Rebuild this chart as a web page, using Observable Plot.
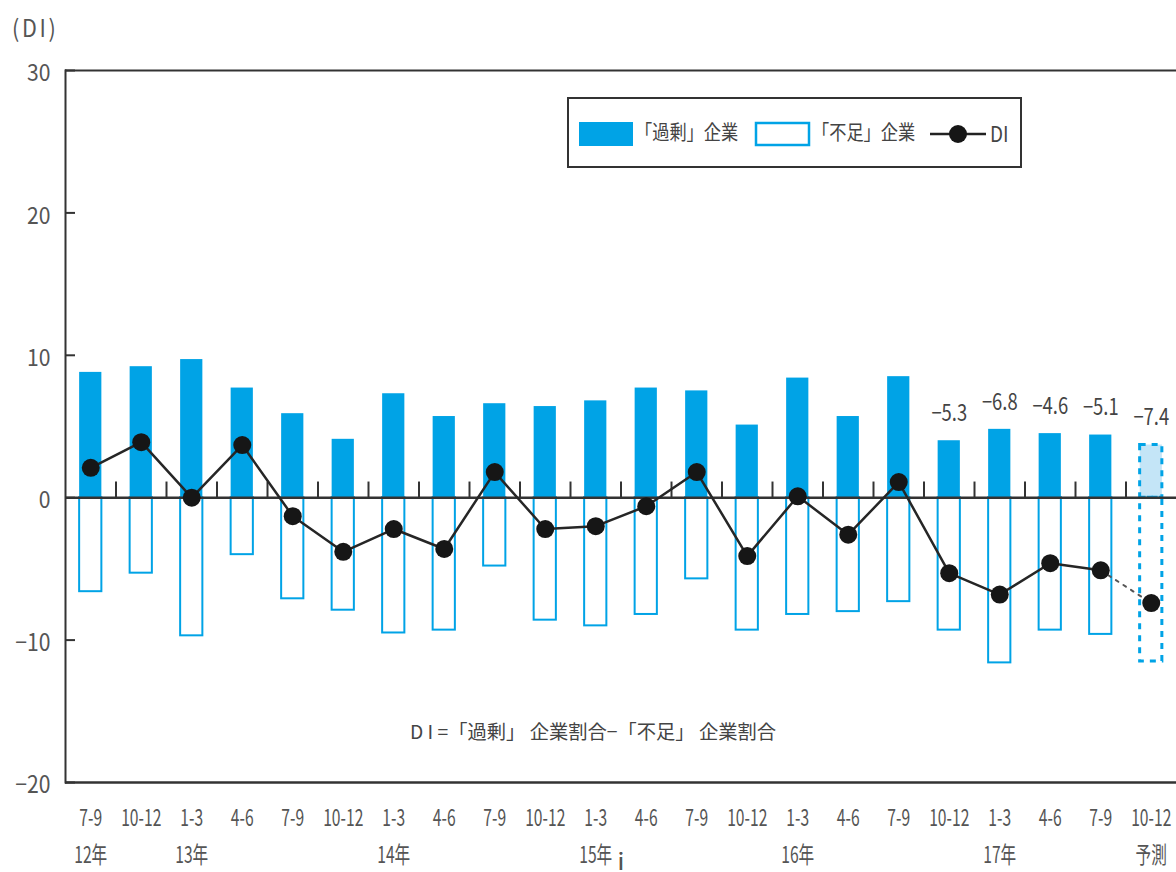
<!DOCTYPE html>
<html><head><meta charset="utf-8">
<script src="https://cdn.jsdelivr.net/npm/d3@7"></script>
<script src="https://cdn.jsdelivr.net/npm/@observablehq/plot@0.6"></script>
<style>
html,body,*{cursor:none !important;}
body{margin:0;background:#fff;}
#wrap{position:relative;width:1176px;height:872px;overflow:hidden;font-family:"Noto Sans CJK JP",sans-serif;color:#555;background:#fff;user-select:none;}
#unit{position:absolute;left:12px;top:9px;font-size:24px;letter-spacing:3px;color:#555;transform-origin:0 50%;transform:scaleX(0.9);}
#legend{position:absolute;left:567px;top:97px;width:451px;height:67px;border:2px solid #333;background:#fff;}
#legend .s{position:absolute;}
#legend .t{position:absolute;top:20px;font-size:20px;line-height:26px;color:#444;white-space:nowrap;transform-origin:0 50%;transform:scaleX(0.86);}
#note{position:absolute;left:410px;top:717px;font-size:19.3px;color:#444;white-space:nowrap;}
</style></head><body><div id="wrap"></div>
<script>
// ---- data ----
const periods = ["7-9","10-12","1-3","4-6","7-9","10-12","1-3","4-6","7-9","10-12","1-3","4-6","7-9","10-12","1-3","4-6","7-9","10-12","1-3","4-6","7-9","10-12"];
const years   = ["12\u5e74","","13\u5e74","","","","14\u5e74","","","","15\u5e74","","","","16\u5e74","","","","17\u5e74","","","\u4e88\u6e2c"];
const surplus  = [8.8, 9.2, 9.7, 7.7, 5.9, 4.1, 7.3, 5.7, 6.6, 6.4, 6.8, 7.7, 7.5, 5.1, 8.4, 5.7, 8.5, 4.0, 4.8, 4.5, 4.4, 3.7];
const shortage = [6.6, 5.3, 9.7, 4.0, 7.1, 7.9, 9.5, 9.3, 4.8, 8.6, 9.0, 8.2, 5.7, 9.3, 8.2, 8.0, 7.3, 9.3, 11.6, 9.3, 9.6, 11.5];
const di       = [2.1, 3.9, 0.0, 3.7, -1.3, -3.8, -2.2, -3.6, 1.8, -2.2, -2.0, -0.6, 1.8, -4.1, 0.1, -2.6, 1.1, -5.3, -6.8, -4.6, -5.1, -7.4];
const diLabels = ["","","","","","","","","","","","","","","","","","−5.3","−6.8","−4.6","−5.1","−7.4"];
const yTicks = [-20, -10, 0, 10, 20, 30];
const forecastIndex = 21;

const blue = "#00a3e6";
const W = 1176, H = 872, mL = 65, mR = 0, mT = 70, mB = 90;
const step = (W - mL - mR) / periods.length;
const font = '"Noto Sans CJK JP",sans-serif';

const rows = periods.map((p, i) => ({i, p, year: years[i], surplus: surplus[i], shortage: -shortage[i], di: di[i], forecast: i === forecastIndex, label: diLabels[i]}));
const actual = rows.filter(d => !d.forecast);
const fc = rows.filter(d => d.forecast);
const yearTicks = rows.filter(d => d.year).map(d => d.i);

const chart = Plot.plot({
  width: W, height: H,
  marginLeft: mL, marginRight: mR, marginTop: mT, marginBottom: mB,
  style: {fontFamily: font, color: "#555", background: "transparent"},
  x: {type: "band", domain: d3.range(periods.length), paddingInner: 0.56, paddingOuter: 0.28, round: false},
  y: {domain: [-20, 30]},
  marks: [
    Plot.barY(actual, {x: "i", y: "surplus", fill: blue}),
    Plot.barY(actual, {x: "i", y: "shortage", fill: "white", stroke: blue, strokeWidth: 2}),
    Plot.barY(fc, {x: "i", y: "surplus", fill: "#c4e5f7", stroke: blue, strokeWidth: 3, strokeDasharray: "6,6"}),
    Plot.barY(fc, {x: "i", y: "shortage", fill: "white", stroke: blue, strokeWidth: 3, strokeDasharray: "6,6"}),
    Plot.ruleY([0], {stroke: "#333", strokeWidth: 2.5}),
    Plot.ruleX(rows.slice(0, -1), {x: "i", y1: () => 0, y2: () => 1.1, dx: step / 2, stroke: "#333", strokeWidth: 2}),
    Plot.ruleY([30], {stroke: "#333", strokeWidth: 2}),
    Plot.ruleY([-20], {stroke: "#333", strokeWidth: 2.5}),
    Plot.frame({anchor: "left", stroke: "#333", strokeWidth: 2}),
    Plot.axisY(yTicks, {tickSize: -10, stroke: "#333", strokeWidth: 2, tickFormat: () => ""}),
    Plot.axisY(yTicks, {tickSize: 0, tickPadding: 15, fontSize: 24, dy: 3, tickFormat: d => d < 0 ? "−" + Math.abs(d) : String(d)}),
    Plot.axisX({tickSize: 0, tickPadding: 27, fontSize: 23, tickFormat: i => periods[i]}),
    Plot.axisX(yearTicks, {tickSize: 0, tickPadding: 64, fontSize: 23, tickFormat: i => years[i]}),
    Plot.line(actual, {x: "i", y: "di", stroke: "#262626", strokeWidth: 2.5}),
    Plot.line(rows.slice(-2), {x: "i", y: "di", stroke: "#555", strokeWidth: 2, strokeDasharray: "3,6"}),
    Plot.dot(rows, {x: "i", y: "di", r: 9, fill: "#161616"}),
    Plot.text(rows.filter(d => d.label), {x: "i", y: "surplus", text: "label", dy: -27, fontSize: 23, fill: "#444"})
  ]
});

// condense the tick and value labels horizontally, like the narrow typeface of the original
function condense(selector, s) {
  chart.querySelectorAll(selector).forEach(el => {
    const x = parseFloat(el.getAttribute("x")) || 0;
    const t = el.getAttribute("transform") || "";
    el.setAttribute("transform", `${t} translate(${x},0) scale(${s},1) translate(${-x},0)`);
  });
}
condense('g[aria-label="x-axis tick label"] text', 0.68);
condense('g[aria-label="y-axis tick label"] text', 0.88);
condense('g[aria-label="text"] text', 0.8);

const wrap = document.getElementById("wrap");
chart.style.position = "absolute";
chart.style.left = "0"; chart.style.top = "0";
wrap.appendChild(chart);

const unit = document.createElement("div");
unit.id = "unit"; unit.textContent = "(DI)";
wrap.appendChild(unit);

const legend = document.createElement("div");
legend.id = "legend";
legend.innerHTML = `
  <svg class="s" style="left:9px;top:22px" width="56" height="26"><rect x="1" y="1" width="54" height="24" fill="${blue}"/></svg>
  <span class="t" style="left:66px">「過剰」企業</span>
  <svg class="s" style="left:185px;top:22px" width="58" height="26"><rect x="2" y="2" width="53" height="22" fill="white" stroke="${blue}" stroke-width="2.5"/></svg>
  <span class="t" style="left:243px">「不足」企業</span>
  <svg class="s" style="left:361px;top:22px" width="58" height="26"><line x1="0" y1="13" x2="56" y2="13" stroke="#222" stroke-width="2.5"/><circle cx="28" cy="13" r="9" fill="#161616"/></svg>
  <span class="t" style="left:421px;font-size:22px">DI</span>`;
wrap.appendChild(legend);

const note = document.createElement("div");
note.id = "note";
note.textContent = "D I =「過剰」 企業割合−「不足」 企業割合";
wrap.appendChild(note);
</script></body></html>
